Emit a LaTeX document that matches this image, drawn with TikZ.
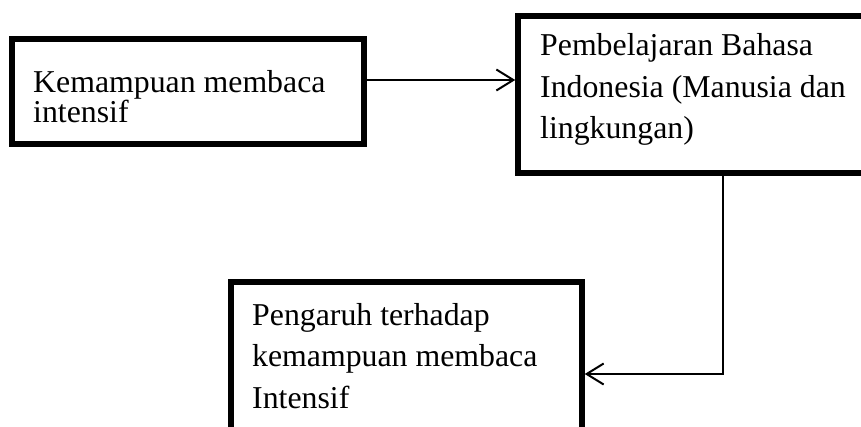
\documentclass[tikz,border=0pt]{standalone}
\usepackage{fontspec}
\setmainfont{Liberation Serif}
\usetikzlibrary{arrows.meta}
\tikzset{
  frame/.style={draw=black, line width=5.5pt, rectangle, inner sep=0pt},
  txt/.style={anchor=base west, inner sep=0pt, font=\fontsize{31.8}{41.5}\selectfont},
  link/.style={draw=black, line width=2pt, -{Straight Barb[length=17pt,width=21pt]}}
}
\begin{document}
\begin{tikzpicture}[x=1pt,y=-1pt]
\clip (0,0) rectangle (861,426);
\fill[white] (0,0) rectangle (861,426);
% boxes
\node[frame, minimum width=352pt, minimum height=105pt] (b1) at (188,91.5) {};
\node[frame, minimum width=382pt, minimum height=157pt] (b2) at (709,94.5) {};
\node[frame, minimum width=351pt, minimum height=178pt] (b3) at (406.5,371) {};
% texts
\node[txt] (t1a) at (33,92) {Kemampuan membaca};
\node[txt] (t1b) at (33,122) {intensif};
\node[txt] (t2a) at (540,55) {Pembelajaran Bahasa};
\node[txt] (t2b) at (540,97) {Indonesia (Manusia dan};
\node[txt] (t2c) at (540,138) {lingkungan)};
\node[txt] (t3a) at (252,325) {Pengaruh terhadap};
\node[txt] (t3b) at (252,366) {kemampuan membaca};
\node[txt] (t3c) at (252,408) {Intensif};
% connectors
\coordinate (k0) at (0,80);
\coordinate (k1) at (723,374);
\draw[link] (b1.east |- k0) -- (b2.west |- k0);
\draw[link] (b2.south -| k1) |- (b3.east |- k1);
\end{tikzpicture}
\end{document}
